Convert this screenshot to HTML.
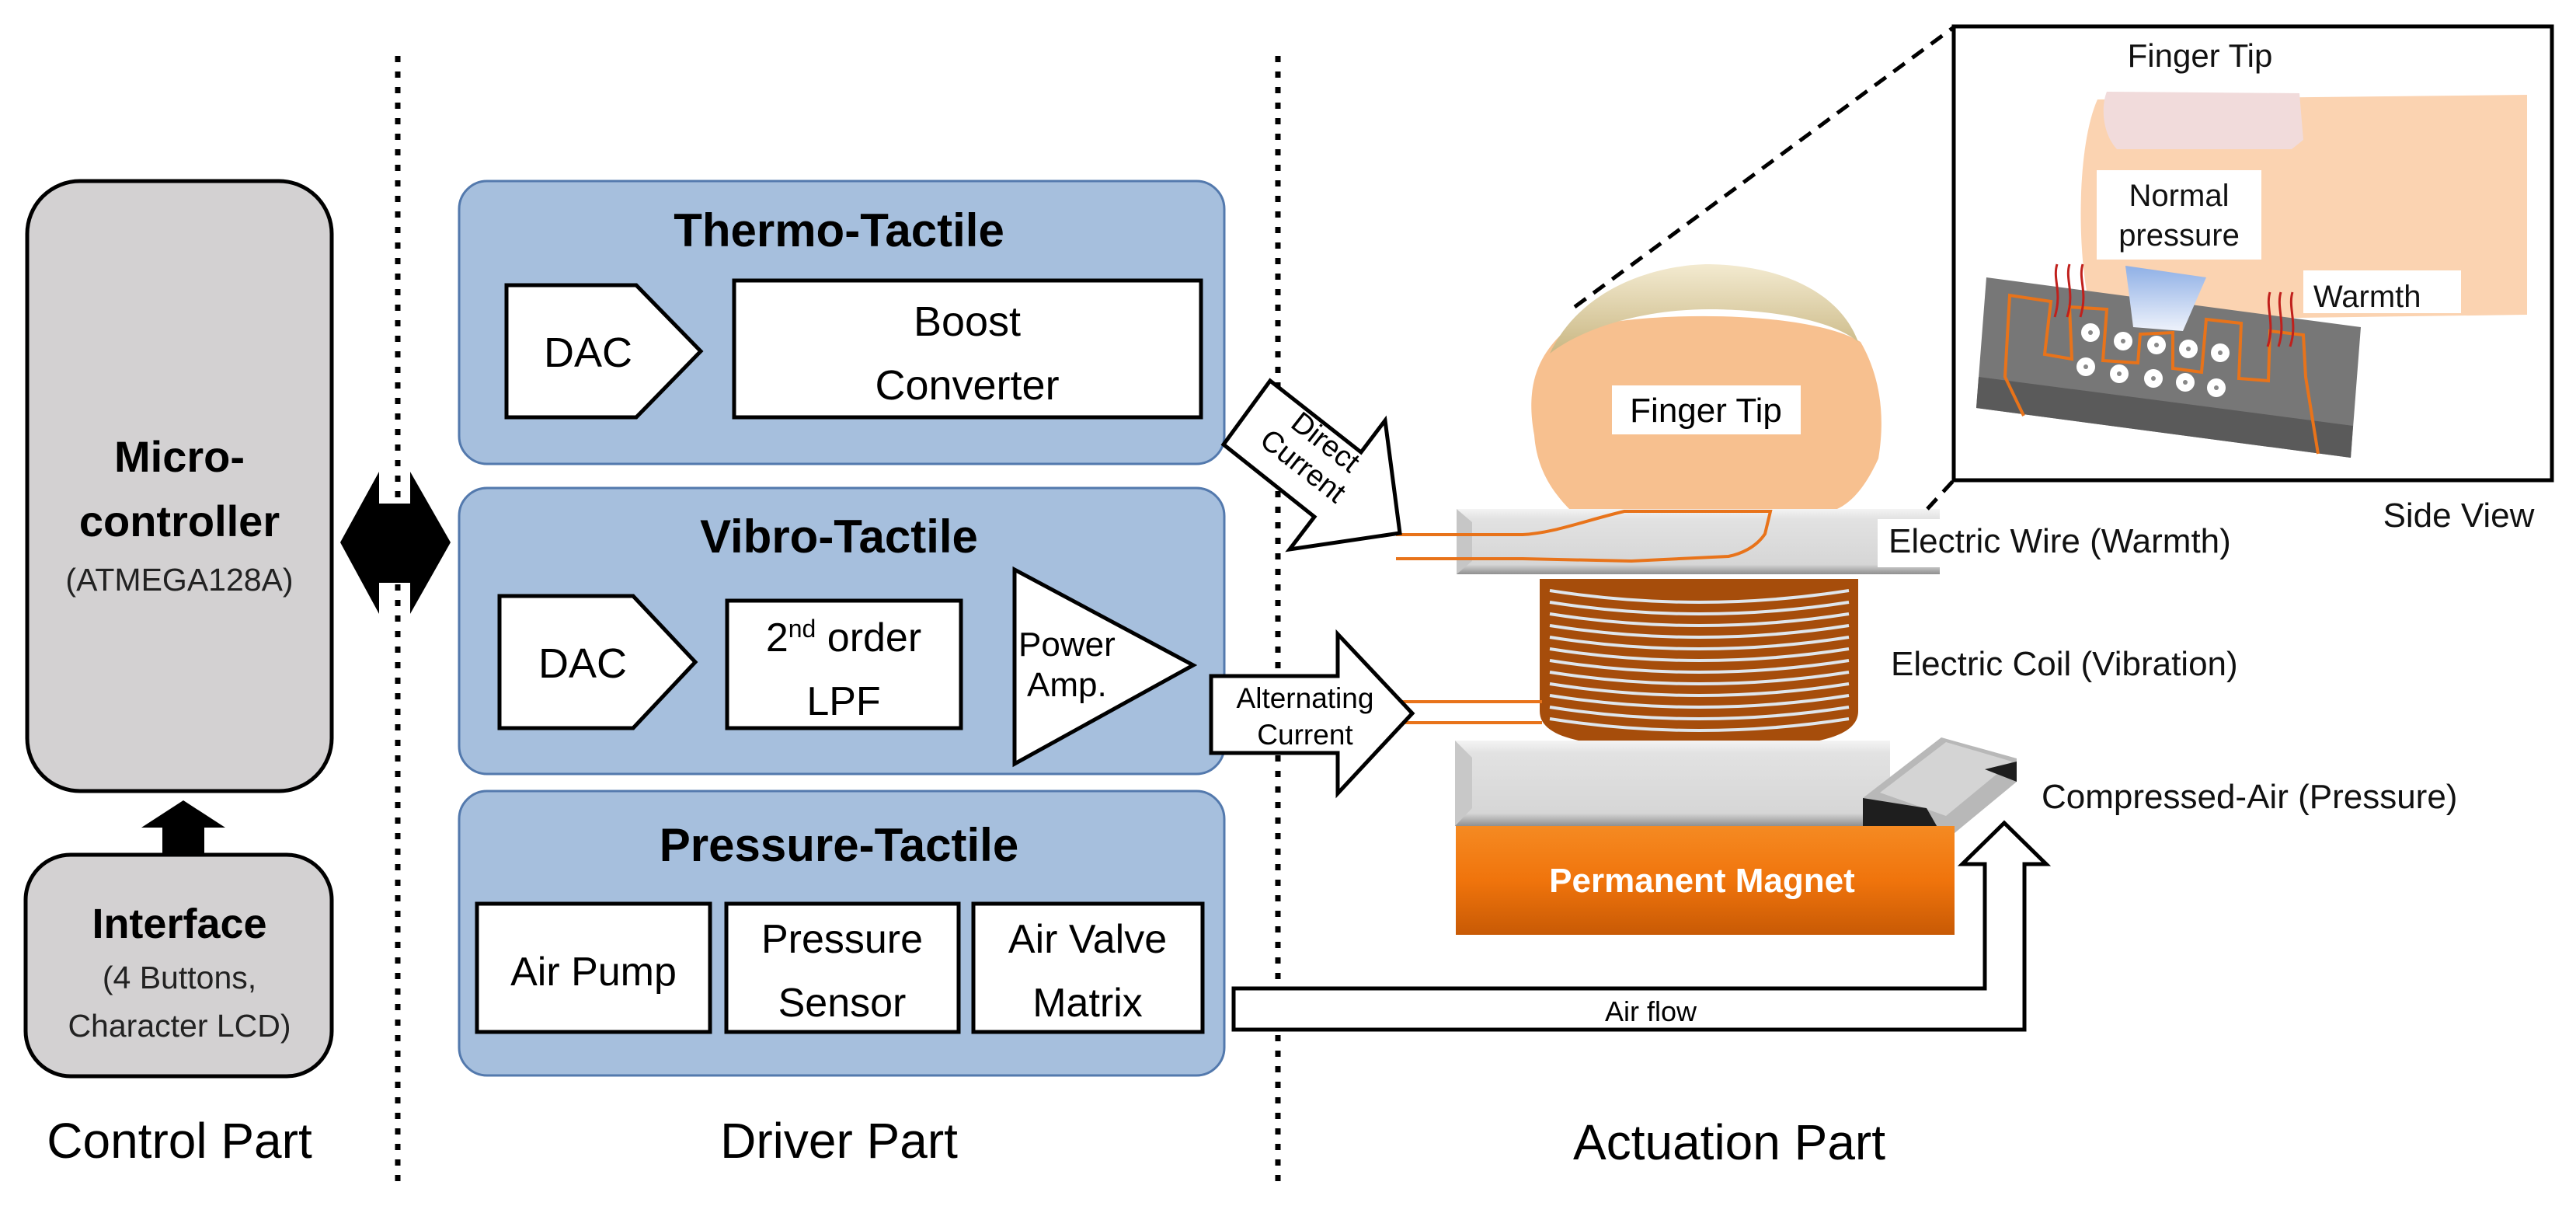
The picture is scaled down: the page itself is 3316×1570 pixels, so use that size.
<!DOCTYPE html>
<html><head><meta charset="utf-8"><style>
html,body{margin:0;padding:0;background:#fff;}
svg{display:block;}
text{font-family:"Liberation Sans",sans-serif;}
</style></head><body>
<svg width="3316" height="1570" viewBox="0 0 3316 1570" xmlns="http://www.w3.org/2000/svg">
<defs>
<linearGradient id="plate" x1="0" y1="0" x2="0" y2="1">
<stop offset="0" stop-color="#f4f4f4"/><stop offset="0.15" stop-color="#e2e2e2"/><stop offset="0.85" stop-color="#d6d6d6"/><stop offset="1" stop-color="#8f8f8f"/></linearGradient>
<linearGradient id="gold" x1="0" y1="0" x2="0" y2="1">
<stop offset="0" stop-color="#f3ead0"/><stop offset="1" stop-color="#c9b783"/></linearGradient>
<linearGradient id="mag" x1="0" y1="0" x2="0" y2="1">
<stop offset="0" stop-color="#f58a22"/><stop offset="0.5" stop-color="#f0740c"/><stop offset="1" stop-color="#c85a05"/></linearGradient>
<linearGradient id="blueT" x1="0" y1="0" x2="0" y2="1">
<stop offset="0" stop-color="#8fb0e6"/><stop offset="1" stop-color="#eef2fb"/></linearGradient>
</defs>

<!-- dotted separators -->
<line x1="512" y1="72" x2="512" y2="1532" stroke="#000" stroke-width="7" stroke-dasharray="8 12"/>
<line x1="1645" y1="72" x2="1645" y2="1532" stroke="#000" stroke-width="7" stroke-dasharray="8 12"/>

<!-- Control part -->
<rect x="35" y="233" width="392" height="785" rx="68" fill="#d3d1d2" stroke="#000" stroke-width="5"/>
<text x="231" y="607" font-size="56" font-weight="bold" text-anchor="middle">Micro-</text>
<text x="231" y="690" font-size="56" font-weight="bold" text-anchor="middle">controller</text>
<text x="231" y="760" font-size="41" text-anchor="middle" fill="#222">(ATMEGA128A)</text>
<polygon points="209,1160 209,1065 182,1065 236,1030 290,1065 263,1065 263,1160" fill="#000"/>
<rect x="33" y="1100" width="394" height="285" rx="58" fill="#d3d1d2" stroke="#000" stroke-width="5"/>
<text x="231" y="1207" font-size="54" font-weight="bold" text-anchor="middle">Interface</text>
<text x="231" y="1272" font-size="41" text-anchor="middle" fill="#222">(4 Buttons,</text>
<text x="231" y="1334" font-size="41" text-anchor="middle" fill="#222">Character LCD)</text>
<text x="231" y="1490" font-size="64" text-anchor="middle">Control Part</text>

<!-- double arrow -->
<polygon points="438,698 488,607 488,648 528,648 528,607 580,698 528,790 528,750 488,750 488,790" fill="#000"/>

<!-- Driver panels -->
<rect x="591" y="233" width="985" height="364" rx="36" fill="#a6bfdd" stroke="#5379ad" stroke-width="3"/>
<rect x="591" y="628" width="985" height="368" rx="36" fill="#a6bfdd" stroke="#5379ad" stroke-width="3"/>
<rect x="591" y="1018" width="985" height="366" rx="36" fill="#a6bfdd" stroke="#5379ad" stroke-width="3"/>

<text x="1080" y="317" font-size="60" font-weight="bold" text-anchor="middle">Thermo-Tactile</text>
<polygon points="652,367 819,367 902,452 819,537 652,537" fill="#fff" stroke="#000" stroke-width="5"/>
<text x="757" y="472" font-size="54" text-anchor="middle">DAC</text>
<rect x="945" y="361" width="601" height="176" fill="#fff" stroke="#000" stroke-width="5"/>
<text x="1245" y="432" font-size="54" text-anchor="middle">Boost</text>
<text x="1245" y="514" font-size="54" text-anchor="middle">Converter</text>

<text x="1080" y="711" font-size="60" font-weight="bold" text-anchor="middle">Vibro-Tactile</text>
<polygon points="643,767 815,767 895,852 815,937 643,937" fill="#fff" stroke="#000" stroke-width="5"/>
<text x="750" y="872" font-size="54" text-anchor="middle">DAC</text>
<rect x="936" y="773" width="301" height="164" fill="#fff" stroke="#000" stroke-width="5"/>
<text x="1086" y="838" font-size="52" text-anchor="middle">2<tspan font-size="32" baseline-shift="super">nd</tspan> order</text>
<text x="1086" y="920" font-size="52" text-anchor="middle">LPF</text>
<polygon points="1306,733 1306,983 1536,856" fill="#fff" stroke="#000" stroke-width="5"/>
<text x="1311" y="844" font-size="44">Power</text>
<text x="1322" y="896" font-size="44">Amp.</text>

<text x="1080" y="1108" font-size="60" font-weight="bold" text-anchor="middle">Pressure-Tactile</text>
<rect x="614" y="1163" width="300" height="165" fill="#fff" stroke="#000" stroke-width="5"/>
<text x="764" y="1268" font-size="52" text-anchor="middle">Air Pump</text>
<rect x="935" y="1163" width="299" height="165" fill="#fff" stroke="#000" stroke-width="5"/>
<text x="1084" y="1226" font-size="52" text-anchor="middle">Pressure</text>
<text x="1084" y="1308" font-size="52" text-anchor="middle">Sensor</text>
<rect x="1253" y="1163" width="295" height="165" fill="#fff" stroke="#000" stroke-width="5"/>
<text x="1400" y="1226" font-size="52" text-anchor="middle">Air Valve</text>
<text x="1400" y="1308" font-size="52" text-anchor="middle">Matrix</text>

<text x="1080" y="1490" font-size="64" text-anchor="middle">Driver Part</text>

<!-- Actuation part: fingertip -->
<path d="M1975,560 C1962,490 1985,455 2010,430 C2080,400 2320,395 2395,440 C2418,480 2428,530 2418,590 C2400,630 2380,650 2360,657 L2022,657 C1995,630 1978,600 1975,560Z" fill="#f7c08f"/>
<path d="M1995,455 C2040,360 2150,340 2200,340 C2300,342 2370,380 2392,440 C2350,405 2250,398 2200,398 C2120,398 2040,420 1995,455Z" fill="url(#gold)"/>
<rect x="2075" y="496" width="243" height="63" fill="#fff"/>
<text x="2196" y="543" font-size="44" text-anchor="middle">Finger Tip</text>

<!-- coil -->
<path d="M1982,745 L1982,915 C1982,955 2060,963 2187,963 C2314,963 2392,955 2392,915 L2392,745Z" fill="#a64d0b"/>
<g stroke="#dfe6ec" stroke-width="4" fill="none">
<path d="M1995,760 Q2187,790 2380,760"/><path d="M1995,775 Q2187,805 2380,775"/><path d="M1995,790 Q2187,820 2380,790"/><path d="M1995,805 Q2187,835 2380,805"/><path d="M1995,820 Q2187,850 2380,820"/><path d="M1995,835 Q2187,865 2380,835"/><path d="M1995,850 Q2187,880 2380,850"/><path d="M1995,865 Q2187,895 2380,865"/><path d="M1995,880 Q2187,910 2380,880"/><path d="M1995,895 Q2187,925 2380,895"/><path d="M1995,910 Q2187,940 2380,910"/><path d="M1995,925 Q2187,955 2380,925"/>
</g>

<!-- wire plate -->
<rect x="1875" y="655" width="622" height="84" fill="url(#plate)"/>
<polygon points="1875,655 1895,672 1895,722 1875,739" fill="#c6c6c6"/>
<rect x="2417" y="668" width="300" height="62" fill="#fff"/>
<path d="M1797,688 L1960,688 C2000,686 2040,670 2091,658 L2279,658 L2272,687 C2260,705 2240,713 2225,716 L2100,722 L1960,719 L1797,719" fill="none" stroke="#e8731a" stroke-width="4"/>
<text x="2431" y="711" font-size="44" fill="#111">Electric Wire (Warmth)</text>
<text x="2434" y="869" font-size="44" fill="#111">Electric Coil (Vibration)</text>

<!-- lower wires -->
<line x1="1805" y1="903" x2="1985" y2="903" stroke="#e8731a" stroke-width="4"/>
<line x1="1805" y1="930" x2="1985" y2="930" stroke="#e8731a" stroke-width="4"/>

<!-- air plate -->
<rect x="1873" y="953" width="560" height="110" fill="url(#plate)"/>
<polygon points="1873,953 1895,975 1895,1040 1873,1063" fill="#c8c8c8"/>
<!-- nozzle -->
<polygon points="2398,1027 2499,949 2596,976 2596,1006 2504,1082 2398,1075" fill="#b8b8b8"/>
<polygon points="2420,1020 2505,955 2590,980 2505,1050" fill="#d4d4d4"/>
<polygon points="2398,1027 2480,1040 2504,1082 2398,1075" fill="#1e1e1e"/>
<polygon points="2555,990 2596,980 2596,1006" fill="#1e1e1e"/>

<!-- magnet -->
<rect x="1874" y="1063" width="642" height="140" fill="url(#mag)"/>
<text x="2191" y="1148" font-size="44" font-weight="bold" fill="#fff" text-anchor="middle">Permanent Magnet</text>
<text x="2628" y="1040" font-size="44" fill="#111">Compressed-Air (Pressure)</text>

<!-- air flow arrow -->
<path d="M1588,1272 L2555,1272 L2555,1112 L2526,1112 L2580,1059 L2634,1112 L2606,1112 L2606,1325 L1588,1325 Z" fill="#fff" stroke="#000" stroke-width="5"/>
<text x="2125" y="1314" font-size="36" text-anchor="middle">Air flow</text>

<!-- direct current arrow -->
<polygon points="1635,490 1752,582 1783,541 1802,686 1660,707 1692,665 1575,572" fill="#fff" stroke="#000" stroke-width="5"/>
<g transform="translate(1690,590) rotate(38)">
<text x="0" y="-14" font-size="38" text-anchor="middle">Direct</text>
<text x="-4" y="28" font-size="38" text-anchor="middle">Current</text>
</g>

<!-- alternating current arrow -->
<polygon points="1559,870 1722,870 1722,816 1818,918 1722,1021 1722,969 1559,969" fill="#fff" stroke="#000" stroke-width="5"/>
<text x="1680" y="911" font-size="37" text-anchor="middle">Alternating</text>
<text x="1680" y="958" font-size="37" text-anchor="middle">Current</text>

<!-- dashed zoom lines -->
<line x1="2027" y1="395" x2="2515" y2="35" stroke="#000" stroke-width="5" stroke-dasharray="18 12"/>
<line x1="2481" y1="655" x2="2515" y2="618" stroke="#000" stroke-width="5" stroke-dasharray="18 12"/>

<!-- inset -->
<rect x="2515" y="34" width="770" height="584" fill="#fff" stroke="#000" stroke-width="5"/>
<text x="2832" y="86" font-size="42" text-anchor="middle" fill="#111">Finger Tip</text>
<path d="M2700,128 L3253,122 L3253,405 L2740,412 L2700,420 C2675,380 2668,200 2700,128Z" fill="#fbd3b1"/>
<path d="M2712,118 L2960,120 L2965,180 L2950,192 L2725,192 C2705,170 2705,135 2712,118Z" fill="#f1dbdb"/>
<rect x="2699" y="219" width="212" height="115" fill="#fff"/>
<text x="2805" y="265" font-size="40" text-anchor="middle" fill="#111">Normal</text>
<text x="2805" y="316" font-size="40" text-anchor="middle" fill="#111">pressure</text>
<rect x="2965" y="348" width="203" height="55" fill="#fff"/>
<text x="2978" y="395" font-size="40" fill="#111">Warmth</text>
<polygon points="2557,357 3039,421 3026,589 2544,525" fill="#777"/>
<polygon points="2547,485 3029,548 3026,589 2544,525" fill="#5a5a5a"/>
<polygon points="2736,342 2840,357 2810,426 2746,421" fill="url(#blueT)"/>
<path d="M2605,535 L2581,485 L2587,380 L2640,388 L2632,456 L2667,462 L2664,395 L2712,398 L2707,464 L2752,467 L2755,430 L2797,428 L2797,474 L2834,479 L2840,411 L2885,416 L2882,487 L2920,490 L2922,426 L2965,431 L2968,485 L2984,584" fill="none" stroke="#e8731a" stroke-width="4"/>
<g fill="#fff" stroke="#777" stroke-width="0">
<circle cx="2691" cy="428" r="12"/><circle cx="2733" cy="439" r="12"/><circle cx="2776" cy="444" r="12"/><circle cx="2817" cy="449" r="12"/><circle cx="2858" cy="454" r="12"/>
<circle cx="2685" cy="472" r="12"/><circle cx="2728" cy="481" r="12"/><circle cx="2772" cy="487" r="12"/><circle cx="2813" cy="492" r="12"/><circle cx="2853" cy="499" r="12"/>
</g>
<g fill="#888">
<circle cx="2691" cy="428" r="3"/><circle cx="2733" cy="439" r="3"/><circle cx="2776" cy="444" r="3"/><circle cx="2817" cy="449" r="3"/><circle cx="2858" cy="454" r="3"/>
<circle cx="2685" cy="472" r="3"/><circle cx="2728" cy="481" r="3"/><circle cx="2772" cy="487" r="3"/><circle cx="2813" cy="492" r="3"/><circle cx="2853" cy="499" r="3"/>
</g>
<g fill="none" stroke="#c0201c" stroke-width="3">
<path d="M2648,340 C2642,360 2655,375 2645,408"/><path d="M2664,340 C2658,360 2671,375 2661,408"/><path d="M2681,340 C2675,360 2688,375 2678,408"/>
<path d="M2922,376 C2916,396 2929,416 2919,446"/><path d="M2936,376 C2930,396 2943,416 2933,446"/><path d="M2951,376 C2945,396 2958,416 2948,446"/>
</g>
<text x="3165" y="678" font-size="44" text-anchor="middle" fill="#111">Side View</text>

<text x="2226" y="1492" font-size="64" text-anchor="middle">Actuation Part</text>
</svg>
</body></html>
